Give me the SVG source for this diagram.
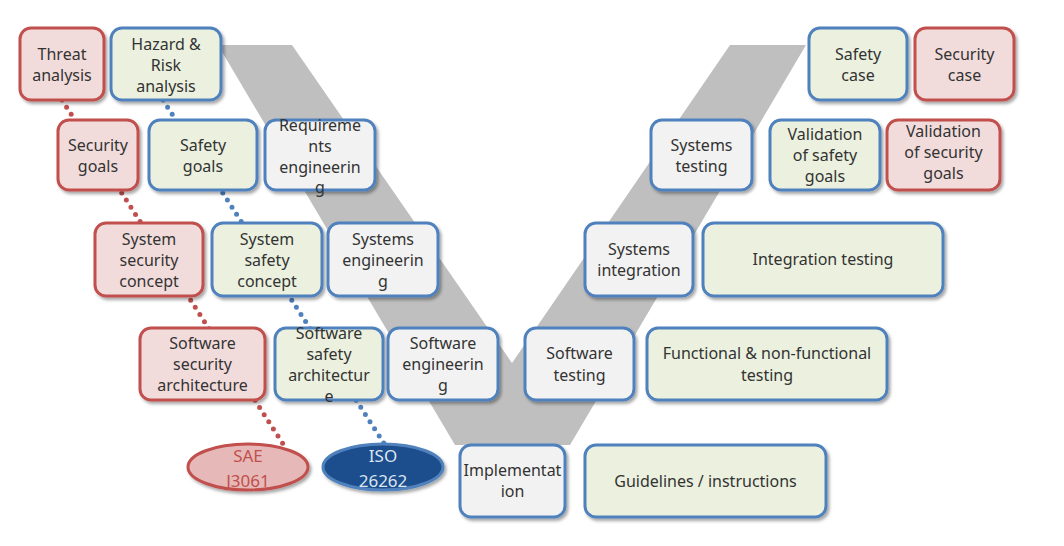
<svg xmlns="http://www.w3.org/2000/svg" width="1064" height="546" viewBox="0 0 1064 546">
<defs>
<filter id="sh" x="-10%" y="-10%" width="130%" height="130%">
<feDropShadow dx="2" dy="2.5" stdDeviation="1.8" flood-color="#000" flood-opacity="0.35"/>
</filter>
<style>
.box{stroke-width:3;filter:url(#sh)}
.red{fill:#f2dcdb;stroke:#c0504d}
.grn{fill:#ebf1de;stroke:#4f81bd}
.gry{fill:#f2f2f2;stroke:#4f81bd}
text{font-family:"Noto Sans","Open Sans",sans-serif;font-size:16px;fill:#333;text-anchor:middle}
.dot{fill:none;stroke-width:5;stroke-linecap:round;stroke-dasharray:0 8.5}
</style>
</defs>
<rect width="1064" height="546" fill="#fff"/>
<polygon id="vshape" points="218,45 292,45 512,363 730,45 806,45 570,445 455,445" fill="#bfbfbf"/>
<g id="connectors">
<line class="dot" x1="62" y1="100" x2="285" y2="447" stroke="#c0504d"/>
<line class="dot" x1="163" y1="100" x2="385" y2="445" stroke="#4f81bd"/>
</g>
<g id="threat"><rect class="box red" x="20" y="28" width="84" height="72" rx="11"/><text x="62" y="60">Threat</text><text x="62" y="81">analysis</text></g>
<g id="hazard"><rect class="box grn" x="111" y="28" width="110" height="72" rx="11"/><text x="166" y="50">Hazard &amp;</text><text x="166" y="71">Risk</text><text x="166" y="92">analysis</text></g>
<g id="secgoals"><rect class="box red" x="58" y="120" width="80" height="70" rx="11"/><text x="98" y="151">Security</text><text x="98" y="172">goals</text></g>
<g id="safegoals"><rect class="box grn" x="149" y="120" width="108" height="70" rx="11"/><text x="203" y="151">Safety</text><text x="203" y="172">goals</text></g>
<g id="reqeng"><rect class="box gry" x="265" y="120" width="110" height="70" rx="11"/><text x="320" y="131">Requireme</text><text x="320" y="152">nts</text><text x="320" y="173">engineerin</text><text x="320" y="193">g</text></g>
<g id="syssec"><rect class="box red" x="95" y="223" width="108" height="73" rx="11"/><text x="149" y="245">System</text><text x="149" y="266">security</text><text x="149" y="287">concept</text></g>
<g id="syssafe"><rect class="box grn" x="212" y="223" width="110" height="73" rx="11"/><text x="267" y="245">System</text><text x="267" y="266">safety</text><text x="267" y="287">concept</text></g>
<g id="syseng"><rect class="box gry" x="328" y="223" width="110" height="73" rx="11"/><text x="383" y="245">Systems</text><text x="383" y="266">engineerin</text><text x="383" y="287">g</text></g>
<g id="swsec"><rect class="box red" x="140" y="328" width="125" height="72" rx="11"/><text x="202.5" y="349">Software</text><text x="202.5" y="370">security</text><text x="202.5" y="391">architecture</text></g>
<g id="swsafe"><rect class="box grn" x="275" y="328" width="108" height="72" rx="11"/><text x="329" y="339">Software</text><text x="329" y="360">safety</text><text x="329" y="381">architectur</text><text x="329" y="402">e</text></g>
<g id="sweng"><rect class="box gry" x="388" y="328" width="110" height="72" rx="11"/><text x="443" y="349">Software</text><text x="443" y="370">engineerin</text><text x="443" y="391">g</text></g>
<g id="sae"><ellipse cx="248" cy="467" rx="60" ry="23" fill="#e6b9b8" stroke="#c0504d" stroke-width="3" filter="url(#sh)"/><text x="248" y="462" style="fill:#c0504d;font-size:17px">SAE</text><text x="248" y="487" style="fill:#c0504d;font-size:17px">J3061</text></g>
<g id="iso"><ellipse cx="383" cy="467" rx="60" ry="23" fill="#1f4e8c" stroke="#4f81bd" stroke-width="3" filter="url(#sh)"/><text x="383" y="462" style="fill:#dbe5f1;font-size:17px">ISO</text><text x="383" y="487" style="fill:#dbe5f1;font-size:17px">26262</text></g>
<g id="impl"><rect class="box gry" x="460" y="445" width="105" height="72" rx="11"/><text x="512.5" y="476">Implementat</text><text x="512.5" y="497">ion</text></g>
<g id="guide"><rect class="box grn" x="585" y="445" width="241" height="72" rx="11"/><text x="705.5" y="487">Guidelines / instructions</text></g>
<g id="swtest"><rect class="box gry" x="525" y="328" width="109" height="72" rx="11"/><text x="579.5" y="359">Software</text><text x="579.5" y="381">testing</text></g>
<g id="func"><rect class="box grn" x="647" y="328" width="240" height="72" rx="11"/><text x="767" y="359">Functional &amp; non-functional</text><text x="767" y="381">testing</text></g>
<g id="sysint"><rect class="box gry" x="585" y="223" width="108" height="73" rx="11"/><text x="639" y="255">Systems</text><text x="639" y="276">integration</text></g>
<g id="inttest"><rect class="box grn" x="703" y="223" width="240" height="73" rx="11"/><text x="823" y="265">Integration testing</text></g>
<g id="systest"><rect class="box gry" x="651" y="120" width="101" height="70" rx="11"/><text x="701.5" y="151">Systems</text><text x="701.5" y="172">testing</text></g>
<g id="valsafe"><rect class="box grn" x="770" y="120" width="110" height="70" rx="11"/><text x="825" y="140">Validation</text><text x="825" y="161">of safety</text><text x="825" y="182">goals</text></g>
<g id="valsec"><rect class="box red" x="887" y="120" width="113" height="70" rx="11"/><text x="943.5" y="137">Validation</text><text x="943.5" y="158">of security</text><text x="943.5" y="179">goals</text></g>
<g id="safecase"><rect class="box grn" x="809" y="28" width="98" height="72" rx="11"/><text x="858" y="60">Safety</text><text x="858" y="81">case</text></g>
<g id="seccase"><rect class="box red" x="915" y="28" width="99" height="72" rx="11"/><text x="964.5" y="60">Security</text><text x="964.5" y="81">case</text></g>
</svg>
